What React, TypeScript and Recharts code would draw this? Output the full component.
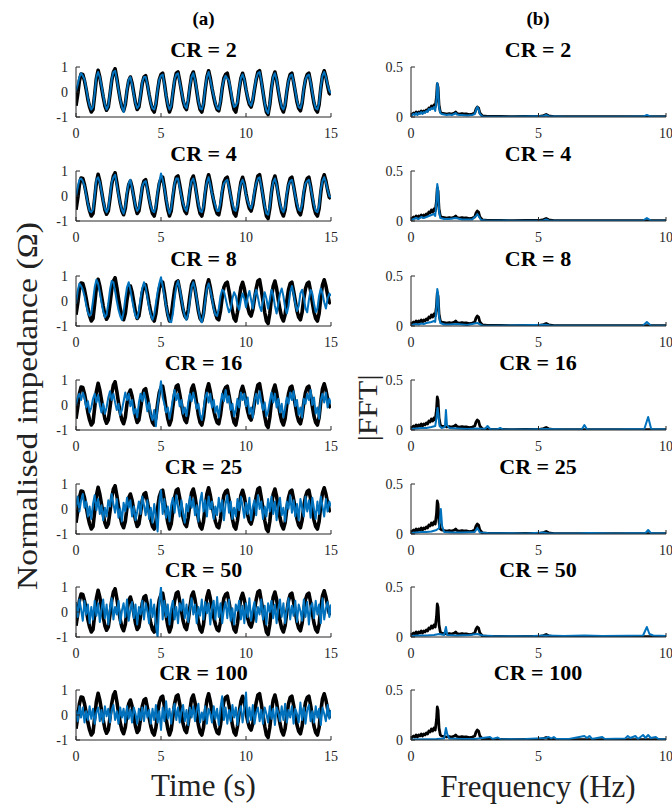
import React from "react";
import { LineChart, Line, XAxis, YAxis } from "recharts";

// ---------- DATA ----------
const DT = 0.1; // sample spacing of time signals (s)
const CR_LABELS = ["2", "4", "8", "16", "25", "50", "100"];
const TIME_TICKS = [0, 5, 10, 15];
const IMP_TICKS = [-1, 0, 1];
const FREQ_TICKS = [0, 5, 10];
const FFT_TICKS = [0, 0.5];

const originalSignal = [
  -0.55, -0.1, 0.45, 0.72, 0.7, 0.45, 0.1, -0.3, -0.6, -0.8,
  -0.7, -0.1, 0.55, 0.87, 0.6, 0.2, -0.2, -0.55, -0.73, -0.6,
  -0.1, 0.45, 0.8, 0.93, 0.55, 0.1, -0.3, -0.6, -0.75, -0.5,
  0.05, 0.45, 0.6, 0.35, -0.05, -0.45, -0.7, -0.6, -0.15, 0.35,
  0.6, 0.65, 0.3, -0.1, -0.45, -0.7, -0.8, -0.5, 0.05, 0.5,
  0.7, 0.75, 0.35, -0.15, -0.55, -0.8, -0.6, -0.05, 0.45, 0.75,
  0.8, 0.45, 0.05, -0.35, -0.6, -0.7, -0.35, 0.2, 0.65, 0.8,
  0.5, 0.05, -0.4, -0.7, -0.8, -0.5, 0.1, 0.6, 0.85, 0.55,
  0.15, -0.2, -0.5, -0.7, -0.75, -0.4, 0.15, 0.55, 0.7, 0.75,
  0.4, 0.0, -0.4, -0.7, -0.8, -0.45, 0.1, 0.55, 0.75, 0.5,
  0.1, -0.25, -0.5, -0.6, -0.35, 0.1, 0.5, 0.8, 0.85, 0.45,
  0.0, -0.45, -0.8, -0.9, -0.5, 0.15, 0.6, 0.8, 0.5, 0.05,
  -0.35, -0.65, -0.8, -0.55, 0.0, 0.45, 0.7, 0.75, 0.4, 0.0,
  -0.4, -0.65, -0.75, -0.45, 0.1, 0.5, 0.7, 0.75, 0.4, -0.05,
  -0.45, -0.7, -0.8, -0.5, 0.15, 0.65, 0.85, 0.6, 0.25, -0.05,
  -0.1,
];

const recCR2 = [
  0.05, 0.3, 0.6, 0.75, 0.65, 0.5, 0.15, -0.25, -0.55, -0.7,
  -0.6, -0.05, 0.6, 0.8, 0.6, 0.25, -0.15, -0.5, -0.7, -0.55,
  -0.05, 0.5, 0.8, 0.85, 0.5, 0.1, -0.3, -0.6, -0.8, -0.45,
  0.1, 0.5, 0.6, 0.3, -0.1, -0.45, -0.65, -0.55, -0.1, 0.4,
  0.6, 0.6, 0.3, -0.1, -0.45, -0.65, -0.7, -0.45, 0.1, 0.5,
  0.65, 0.7, 0.3, -0.15, -0.5, -0.7, -0.55, 0.0, 0.5, 0.7,
  0.75, 0.4, 0.05, -0.3, -0.55, -0.65, -0.3, 0.25, 0.6, 0.75,
  0.5, 0.1, -0.35, -0.65, -0.7, -0.45, 0.15, 0.6, 0.8, 0.5,
  0.15, -0.15, -0.45, -0.65, -0.7, -0.35, 0.2, 0.5, 0.65, 0.55,
  0.45, 0.1, -0.35, -0.6, -0.55, -0.4, 0.15, 0.55, 0.7, 0.5,
  0.1, -0.2, -0.45, -0.55, -0.3, 0.15, 0.55, 0.75, 0.8, 0.45,
  0.0, -0.45, -0.75, -0.85, -0.45, 0.15, 0.6, 0.75, 0.5, 0.1,
  -0.3, -0.6, -0.7, -0.5, 0.05, 0.45, 0.65, 0.7, 0.4, 0.05,
  -0.35, -0.6, -0.65, -0.4, 0.15, 0.5, 0.65, 0.7, 0.4, 0.0,
  -0.4, -0.65, -0.7, -0.45, 0.2, 0.65, 0.8, 0.6, 0.3, 0.05,
  -0.05,
];

const recCR4 = [
  0.0, 0.35, 0.65, 0.7, 0.6, 0.4, 0.05, -0.3, -0.6, -0.65,
  -0.55, 0.0, 0.65, 0.75, 0.55, 0.2, -0.2, -0.5, -0.65, -0.5,
  0.0, 0.55, 0.75, 0.85, 0.45, 0.05, -0.3, -0.55, -0.7, -0.4,
  0.15, 0.5, 0.65, 0.3, -0.05, -0.4, -0.6, -0.5, -0.05, 0.4,
  0.55, 0.6, 0.25, -0.1, -0.4, -0.6, -0.65, -0.4, 0.15, 0.55,
  0.9, 0.65, 0.3, -0.1, -0.45, -0.7, -0.5, 0.05, 0.5, 0.7,
  0.7, 0.35, 0.0, -0.3, -0.5, -0.6, -0.25, 0.3, 0.6, 0.7,
  0.45, 0.05, -0.3, -0.6, -0.65, -0.4, 0.2, 0.55, 0.75, 0.45,
  0.1, -0.15, -0.4, -0.6, -0.6, -0.25, 0.25, 0.5, 0.6, 0.65,
  0.35, 0.0, -0.3, -0.55, -0.6, -0.35, 0.2, 0.5, 0.65, 0.45,
  0.05, -0.2, -0.4, -0.5, -0.25, 0.2, 0.5, 0.7, 0.75, 0.4,
  0.0, -0.4, -0.7, -0.75, -0.4, 0.2, 0.55, 0.7, 0.45, 0.05,
  -0.3, -0.55, -0.65, -0.45, 0.1, 0.45, 0.6, 0.65, 0.35, 0.0,
  -0.3, -0.55, -0.6, -0.35, 0.2, 0.5, 0.6, 0.65, 0.35, 0.0,
  -0.35, -0.6, -0.65, -0.4, 0.25, 0.6, 0.75, 0.55, 0.25, 0.0,
  -0.05,
];

const recCR8 = [
  -0.1, 0.4, 0.7, 0.6, 0.45, 0.2, -0.15, -0.45, -0.6, -0.5,
  0.0, 0.55, 0.85, 0.7, 0.35, -0.05, -0.4, -0.65, -0.55, -0.1,
  0.45, 0.8, 0.75, 0.4, 0.0, -0.35, -0.6, -0.75, -0.45, 0.1,
  0.55, 0.75, 0.45, 0.05, -0.3, -0.6, -0.7, -0.4, 0.1, 0.5,
  0.75, 0.55, 0.15, -0.25, -0.55, -0.75, -0.55, -0.1, 0.35, 0.7,
  0.95, 0.6, 0.2, -0.2, -0.55, -0.8, -0.85, -0.5, 0.1, 0.6,
  0.8, 0.5, 0.1, -0.3, -0.6, -0.75, -0.5, 0.05, 0.55, 0.75,
  0.5, 0.1, -0.35, -0.7, -0.85, -0.55, 0.0, 0.5, 0.7, 0.45,
  0.1, -0.3, -0.55, -0.6, -0.3, 0.2, 0.45, 0.4, 0.1, -0.2,
  -0.45, -0.3, 0.1, 0.35, 0.2, -0.15, -0.35, 0.05, 0.3, 0.1,
  -0.25, 0.15, 0.4, 0.05, -0.3, 0.2, 0.45, 0.15, -0.2, -0.4,
  0.0, 0.35, 0.1, -0.3, 0.05, 0.45, 0.25, -0.2, -0.5, -0.1,
  0.3, 0.5, 0.2, -0.25, -0.5, -0.2, 0.35, 0.6, 0.3, -0.1,
  -0.4, -0.2, 0.3, 0.45, 0.15, -0.3, -0.45, 0.05, 0.45, 0.3,
  -0.1, -0.45, -0.3, 0.2, 0.5, 0.3, -0.05, -0.3, 0.1, 0.3,
  0.2,
];

const recCR16 = [
  0.0, 0.3, 0.45, 0.2, 0.5, 0.3, -0.1, 0.15, -0.3, -0.1,
  0.25, 0.45, 0.1, 0.4, 0.0, -0.3, 0.05, -0.35, -0.1, 0.3,
  0.55, 0.2, 0.45, 0.1, -0.2, 0.05, -0.4, -0.2, 0.15, 0.5,
  0.2, 0.45, -0.05, 0.2, -0.35, -0.15, -0.5, 0.1, 0.45, 0.15,
  0.5, 0.2, -0.25, 0.1, -0.4, -0.6, -0.2, -0.85, 0.0, 0.45,
  0.95, 0.3, 0.05, -0.3, -0.1, -0.55, -0.2, 0.25, 0.6, 0.2,
  0.45, -0.05, 0.2, -0.35, -0.1, -0.45, 0.1, 0.45, 0.15, 0.5,
  0.2, -0.15, 0.05, -0.4, -0.6, -0.2, 0.3, 0.5, 0.1, 0.45,
  -0.1, 0.2, -0.3, -0.05, -0.5, 0.05, 0.45, 0.15, 0.6, 0.1,
  0.35, -0.2, 0.05, -0.45, -0.2, 0.25, -0.1, 0.5, 0.2, 0.45,
  -0.05, 0.3, -0.35, -0.1, -0.5, 0.2, 0.45, 0.05, 0.55, 0.15,
  -0.2, 0.1, -0.45, -0.25, 0.15, 0.5, 0.1, 0.45, -0.1, 0.25,
  -0.3, 0.05, -0.5, -0.15, 0.3, 0.05, 0.5, 0.2, 0.55, -0.05,
  0.2, -0.4, -0.1, -0.5, 0.25, 0.05, 0.45, 0.2, 0.6, 0.0,
  0.3, -0.35, -0.1, -0.55, 0.2, 0.45, 0.1, 0.5, -0.1, 0.25,
  0.05,
];

const recCR25 = [
  0.1, 0.5, -0.1, 0.35, 0.6, 0.05, 0.3, -0.3, 0.1, -0.4,
  0.2, 0.55, -0.05, 0.4, -0.2, 0.15, -0.45, 0.05, -0.3, 0.35,
  0.1, 0.6, 0.2, -0.15, 0.4, -0.35, 0.0, -0.5, 0.25, -0.1,
  0.45, 0.05, 0.35, -0.3, 0.1, -0.45, -0.1, 0.3, -0.2, 0.5,
  0.15, -0.25, 0.35, -0.4, 0.05, -0.55, 0.2, -0.3, -0.9, 0.3,
  0.75, -0.2, 0.4, -0.35, 0.1, -0.5, 0.15, 0.45, -0.15, 0.55,
  0.1, -0.3, 0.35, -0.2, -0.55, 0.2, -0.1, 0.5, 0.05, 0.4,
  -0.25, 0.15, -0.5, 0.3, 0.65, -0.1, 0.35, -0.3, 0.5, 0.0,
  0.3, -0.4, 0.1, -0.25, 0.45, -0.1, 0.35, -0.45, 0.2, 0.55,
  -0.15, 0.3, -0.4, 0.05, -0.3, 0.4, -0.05, 0.5, 0.1, -0.35,
  0.25, -0.2, 0.45, -0.45, 0.1, 0.35, -0.25, 0.55, 0.0, 0.3,
  -0.4, 0.1, -0.3, 0.4, -0.1, 0.5, -0.2, 0.3, -0.45, 0.15,
  0.45, -0.25, 0.05, -0.5, 0.3, 0.0, 0.55, -0.15, 0.35, -0.3,
  0.2, -0.45, 0.4, 0.05, -0.3, 0.5, -0.1, 0.35, -0.35, 0.45,
  0.0, -0.4, 0.3, -0.2, 0.5, 0.1, -0.3, 0.4, -0.1, 0.3,
  0.1,
];

const recCR50 = [
  0.4, -0.2, 0.5, 0.1, -0.35, 0.45, -0.1, 0.3, -0.45, 0.2,
  -0.3, 0.45, -0.15, 0.35, -0.4, 0.1, 0.5, -0.25, 0.3, -0.5,
  0.15, 0.55, -0.3, 0.2, -0.1, 0.45, -0.45, 0.05, 0.35, -0.2,
  0.5, -0.35, 0.1, 0.4, -0.25, 0.3, -0.5, 0.2, -0.1, 0.45,
  -0.3, 0.35, 0.05, -0.45, 0.5, -0.2, 0.3, -0.55, -1.0, 0.4,
  1.0, -0.3, 0.45, -0.2, 0.3, -0.5, 0.15, 0.45, -0.3, 0.2,
  -0.45, 0.35, 0.05, 0.5, -0.25, 0.3, -0.4, 0.15, 0.55, -0.1,
  0.3, -0.45, 0.2, -0.15, 0.5, -0.3, 0.4, -0.05, 0.35, -0.5,
  0.2, 0.45, -0.3, 0.6, -0.2, 0.35, -0.45, 0.1, 0.4, -0.25,
  0.5, -0.35, 0.15, -0.5, 0.3, 0.05, 0.45, -0.3, 0.25, -0.45,
  0.35, -0.2, 0.55, -0.35, 0.1, 0.4, -0.4, 0.2, -0.1, 0.5,
  -0.3, 0.25, -0.5, 0.35, 0.0, 0.45, -0.25, 0.3, -0.45, 0.15,
  0.5, -0.2, 0.35, -0.45, 0.1, 0.55, -0.3, 0.25, -0.15, 0.45,
  -0.4, 0.3, 0.05, -0.35, 0.5, -0.2, 0.4, -0.5, 0.2, 0.35,
  -0.25, 0.45, -0.1, 0.3, -0.45, 0.55, -0.3, 0.15, 0.4, -0.2,
  0.3,
];

const recCR100 = [
  0.2, -0.25, 0.35, -0.1, 0.3, -0.3, 0.15, -0.2, 0.35, -0.15,
  0.25, -0.35, 0.1, 0.3, -0.25, 0.2, -0.3, 0.35, -0.05, 0.25,
  -0.3, 0.2, 0.4, -0.2, 0.15, -0.35, 0.3, -0.1, 0.25, -0.3,
  0.35, -0.15, 0.2, -0.3, 0.3, 0.05, -0.35, 0.25, -0.2, 0.3,
  -0.25, 0.35, -0.1, 0.2, -0.35, 0.25, -0.2, 0.4, -0.3, 0.15,
  -0.6, 0.3, -0.25, 0.55, -0.15, 0.25, -0.35, 0.2, 0.45, -0.2,
  0.3, -0.3, 0.15, 0.4, -0.25, 0.2, -0.4, 0.3, -0.1, 0.35,
  -0.25, 0.2, 0.45, -0.3, 0.1, -0.2, 0.35, -0.35, 0.25, 0.05,
  -0.3, 0.35, -0.15, 0.25, -0.4, 0.3, 0.75, -0.2, 0.3, -0.35,
  0.2, -0.25, 0.4, -0.1, 0.3, -0.4, 0.15, 0.35, -0.3, 0.25,
  0.9, -0.3, 0.3, -0.2, 0.4, -0.35, 0.1, 0.3, -0.25, 0.2,
  -0.35, 0.3, 0.05, -0.3, 0.35, -0.15, 0.25, -0.4, 0.3, 0.1,
  -0.25, 0.35, -0.2, 0.45, -0.3, 0.2, -0.1, 0.35, -0.35, 0.25,
  0.05, -0.3, 0.5, -0.2, 0.3, -0.35, 0.2, 0.4, -0.25, 0.15,
  -0.3, 0.35, -0.1, 0.25, -0.4, 0.3, 0.05, -0.25, 0.4, -0.15,
  0.2,
];

// FFT magnitude spectra: [frequency (Hz), |FFT|]
const fftOriginal = [
  [0, 0.01], [0.05, 0.03], [0.1, 0.04], [0.15, 0.03], [0.2, 0.05], [0.25, 0.03], [0.3, 0.05], [0.35, 0.04],
  [0.4, 0.06], [0.45, 0.04], [0.5, 0.06], [0.55, 0.05], [0.6, 0.07], [0.65, 0.06], [0.7, 0.09], [0.75, 0.08],
  [0.8, 0.11], [0.85, 0.09], [0.9, 0.12], [0.95, 0.1], [1.0, 0.2], [1.03, 0.33], [1.06, 0.3], [1.1, 0.12],
  [1.15, 0.05], [1.2, 0.04], [1.3, 0.035], [1.4, 0.03], [1.5, 0.035], [1.6, 0.03], [1.7, 0.04], [1.75, 0.05],
  [1.8, 0.035], [1.9, 0.03], [2.0, 0.035], [2.1, 0.03], [2.2, 0.03], [2.3, 0.025], [2.4, 0.03], [2.5, 0.04],
  [2.55, 0.08], [2.6, 0.1], [2.65, 0.09], [2.7, 0.04], [2.8, 0.01], [3.0, 0.006], [3.5, 0.005], [4.0, 0.004],
  [4.5, 0.006], [5.0, 0.005], [5.2, 0.015], [5.3, 0.025], [5.4, 0.012], [5.6, 0.004], [6, 0.004], [7, 0.003],
  [8, 0.003], [9, 0.003], [10, 0.003],
];

const fftCR2 = [
  [0, 0.01], [0.05, 0.02], [0.1, 0.03], [0.15, 0.02], [0.2, 0.04], [0.25, 0.02], [0.3, 0.04], [0.35, 0.03],
  [0.4, 0.05], [0.45, 0.03], [0.5, 0.05], [0.55, 0.04], [0.6, 0.06], [0.65, 0.05], [0.7, 0.08], [0.75, 0.07],
  [0.8, 0.09], [0.85, 0.08], [0.9, 0.1], [0.95, 0.06], [1.0, 0.18], [1.03, 0.34], [1.06, 0.3], [1.1, 0.1],
  [1.15, 0.04], [1.2, 0.03], [1.3, 0.025], [1.4, 0.02], [1.5, 0.025], [1.6, 0.02], [1.7, 0.03], [1.75, 0.04],
  [1.8, 0.025], [1.9, 0.02], [2.0, 0.02], [2.2, 0.015], [2.4, 0.02], [2.5, 0.03], [2.55, 0.07], [2.6, 0.1],
  [2.65, 0.08], [2.7, 0.03], [2.8, 0.005], [3, 0.003], [4, 0.003], [5.2, 0.01], [5.3, 0.02], [5.4, 0.008],
  [6, 0.003], [7, 0.003], [8, 0.003], [9.1, 0.004], [9.25, 0.02], [9.4, 0.004], [10, 0.003],
];

const fftCR4 = [
  [0, 0.01], [0.1, 0.02], [0.2, 0.03], [0.3, 0.02], [0.4, 0.04], [0.5, 0.03], [0.6, 0.04], [0.7, 0.05],
  [0.8, 0.06], [0.9, 0.07], [0.95, 0.05], [1.0, 0.2], [1.03, 0.37], [1.06, 0.32], [1.1, 0.1], [1.15, 0.03],
  [1.3, 0.02], [1.5, 0.02], [1.75, 0.03], [2.0, 0.015], [2.4, 0.015], [2.55, 0.05], [2.6, 0.07], [2.65, 0.05],
  [2.75, 0.01], [3, 0.003], [5.2, 0.005], [5.3, 0.015], [5.4, 0.005], [7, 0.003], [9.1, 0.004], [9.25, 0.03],
  [9.4, 0.004], [10, 0.003],
];

const fftCR8 = [
  [0, 0.01], [0.1, 0.015], [0.2, 0.02], [0.3, 0.015], [0.4, 0.025], [0.5, 0.02], [0.6, 0.03], [0.7, 0.035],
  [0.8, 0.04], [0.9, 0.05], [0.95, 0.04], [1.0, 0.2], [1.03, 0.37], [1.06, 0.33], [1.1, 0.1], [1.15, 0.03],
  [1.3, 0.015], [1.5, 0.015], [1.8, 0.02], [2.2, 0.01], [2.6, 0.03], [2.8, 0.005], [3.2, 0.003], [5.3, 0.012],
  [5.5, 0.003], [7, 0.003], [9.1, 0.005], [9.25, 0.04], [9.4, 0.005], [10, 0.003],
];

const fftCR16 = [
  [0, 0.01], [0.2, 0.015], [0.4, 0.02], [0.6, 0.02], [0.8, 0.03], [0.95, 0.04], [1.0, 0.12], [1.04, 0.22],
  [1.08, 0.15], [1.12, 0.04], [1.2, 0.02], [1.33, 0.03], [1.37, 0.2], [1.41, 0.05], [1.5, 0.02], [1.8, 0.015],
  [2.2, 0.01], [2.6, 0.015], [2.9, 0.01], [3.0, 0.04], [3.1, 0.01], [3.4, 0.008], [3.5, 0.02], [3.6, 0.006],
  [4.5, 0.005], [5.3, 0.01], [6, 0.005], [6.7, 0.008], [6.8, 0.05], [6.9, 0.008], [8, 0.005], [9.15, 0.01],
  [9.3, 0.13], [9.42, 0.01], [10, 0.005],
];

const fftCR25 = [
  [0, 0.01], [0.2, 0.015], [0.4, 0.02], [0.6, 0.02], [0.8, 0.025], [1.0, 0.04], [1.1, 0.06], [1.17, 0.25],
  [1.22, 0.08], [1.3, 0.02], [1.6, 0.015], [2.0, 0.015], [2.5, 0.02], [2.6, 0.06], [2.7, 0.015], [3.0, 0.01],
  [3.5, 0.008], [4.5, 0.005], [5.2, 0.015], [5.4, 0.005], [6.5, 0.006], [7.0, 0.01], [8, 0.005], [9.2, 0.01],
  [9.3, 0.04], [9.4, 0.01], [10, 0.005],
];

const fftCR50 = [
  [0, 0.01], [0.3, 0.015], [0.6, 0.015], [0.9, 0.02], [1.1, 0.03], [1.3, 0.02], [1.37, 0.1], [1.42, 0.02],
  [1.8, 0.015], [2.3, 0.02], [2.6, 0.03], [2.8, 0.015], [3.2, 0.01], [4.0, 0.008], [4.8, 0.01], [5.3, 0.015],
  [6.0, 0.01], [6.8, 0.015], [7.5, 0.01], [8.5, 0.012], [9.1, 0.015], [9.25, 0.1], [9.35, 0.03], [9.5, 0.015],
  [10, 0.01],
];

const fftCR100 = [
  [0, 0.005], [0.5, 0.008], [1.0, 0.01], [1.3, 0.015], [1.37, 0.12], [1.42, 0.06], [1.5, 0.015], [2.0, 0.01],
  [2.5, 0.01], [3.1, 0.03], [3.2, 0.01], [3.4, 0.025], [3.5, 0.01], [4.0, 0.008], [4.5, 0.01], [5.3, 0.02],
  [5.4, 0.03], [5.5, 0.015], [5.6, 0.03], [5.7, 0.01], [6.2, 0.01], [6.8, 0.04], [6.9, 0.02], [7.0, 0.04],
  [7.1, 0.01], [7.5, 0.03], [7.6, 0.01], [8.4, 0.015], [8.5, 0.04], [8.6, 0.02], [8.8, 0.04], [8.9, 0.01],
  [9.1, 0.05], [9.2, 0.02], [9.3, 0.05], [9.4, 0.02], [9.6, 0.03], [9.7, 0.01], [10, 0.008],
];

const RECON_TIME = [recCR2, recCR4, recCR8, recCR16, recCR25, recCR50, recCR100];
const RECON_FFT = [fftCR2, fftCR4, fftCR8, fftCR16, fftCR25, fftCR50, fftCR100];

// ---------- STYLE / LAYOUT ----------
const PANEL_TOPS = [67, 171, 276, 380, 484, 587, 690];
const TOP_PAD = 12;
const BLUE = "#0072BD";
const AXIS = "#262626";
const SERIF = "Liberation Serif, Times New Roman, Times, DejaVu Serif, serif";
const tickStyle = { fontFamily: SERIF, fontSize: 14, fill: AXIS };

function Panel({ left, top, xDomain, xTicks, yDomain, yTicks, children, data }: any) {
  return (
    <div style={{ position: "absolute", left, top: top - TOP_PAD }}>
      <LineChart width={345} height={80 + TOP_PAD} data={data} margin={{ top: TOP_PAD, right: 14, bottom: 0, left: 0 }}>
        <XAxis
          dataKey="x"
          type="number"
          domain={xDomain}
          ticks={xTicks}
          interval={0}
          allowDataOverflow
          height={30}
          tickSize={-4}
          tickMargin={15}
          stroke={AXIS}
          tick={tickStyle}
        />
        <XAxis
          xAxisId="top"
          orientation="top"
          dataKey="x"
          type="number"
          domain={xDomain}
          ticks={xTicks}
          interval={0}
          allowDataOverflow
          height={0}
          tickSize={-4}
          tick={false}
          stroke={AXIS}
        />
        <YAxis
          type="number"
          domain={yDomain}
          ticks={yTicks}
          interval={0}
          allowDataOverflow
          width={76}
          tickSize={-4}
          tickMargin={12}
          stroke={AXIS}
          tick={tickStyle}
        />
        <YAxis
          yAxisId="right"
          orientation="right"
          type="number"
          domain={yDomain}
          ticks={yTicks}
          interval={0}
          allowDataOverflow
          width={0}
          tickSize={-4}
          tick={false}
          stroke={AXIS}
        />
        {children}
      </LineChart>
    </div>
  );
}

function TimePanel({ idx }: { idx: number }) {
  const rec = RECON_TIME[idx];
  const data = originalSignal.map((v, i) => ({ x: +(i * DT).toFixed(2), orig: v, rec: rec[i] }));
  return (
    <Panel left={0} top={PANEL_TOPS[idx]} xDomain={[0, 15]} xTicks={TIME_TICKS} yDomain={[-1, 1]} yTicks={IMP_TICKS} data={data}>
      <Line dataKey="orig" stroke="#000" strokeWidth={3.6} dot={false} isAnimationActive={false} strokeLinejoin="round" />
      <Line dataKey="rec" stroke={BLUE} strokeWidth={2} dot={false} isAnimationActive={false} strokeLinejoin="round" />
    </Panel>
  );
}

function FftPanel({ idx }: { idx: number }) {
  const orig = fftOriginal.map(([f, a]) => ({ x: f, y: a }));
  const rec = RECON_FFT[idx].map(([f, a]) => ({ x: f, y: a }));
  return (
    <Panel left={335} top={PANEL_TOPS[idx]} xDomain={[0, 10]} xTicks={FREQ_TICKS} yDomain={[0, 0.5]} yTicks={FFT_TICKS}>
      <Line data={orig} dataKey="y" stroke="#000" strokeWidth={2.8} dot={false} isAnimationActive={false} strokeLinejoin="round" />
      <Line data={rec} dataKey="y" stroke={BLUE} strokeWidth={2} dot={false} isAnimationActive={false} strokeLinejoin="round" />
    </Panel>
  );
}

export default function App() {
  return (
    <div style={{ position: "absolute", left: 0, top: 0, width: 672, height: 804, overflow: "hidden", background: "#fff", fontFamily: SERIF }}>
      {CR_LABELS.map((_, i) => (
        <TimePanel key={"t" + i} idx={i} />
      ))}
      {CR_LABELS.map((_, i) => (
        <FftPanel key={"f" + i} idx={i} />
      ))}
      <svg width={672} height={804} style={{ position: "absolute", left: 0, top: 0, pointerEvents: "none" }}>
        <g style={{ fontFamily: SERIF }} fill="#000">
          <text x={203.5} y={25} textAnchor="middle" fontWeight="bold" fontSize={19}>(a)</text>
          <text x={538} y={25} textAnchor="middle" fontWeight="bold" fontSize={19}>(b)</text>
          {CR_LABELS.map((c, i) => (
            <React.Fragment key={"ttl" + i}>
              <text x={203.5} y={PANEL_TOPS[i] - 10} textAnchor="middle" fontWeight="bold" fontSize={22}>{`CR = ${c}`}</text>
              <text x={538} y={PANEL_TOPS[i] - 10} textAnchor="middle" fontWeight="bold" fontSize={22}>{`CR = ${c}`}</text>
            </React.Fragment>
          ))}
          <text x={203.5} y={796} textAnchor="middle" fontSize={31} fill="#222">Time (s)</text>
          <text x={538} y={797} textAnchor="middle" fontSize={31} fill="#222">Frequency (Hz)</text>
          <text
            transform="translate(37,406) rotate(-90)"
            textAnchor="middle"
            fontSize={30}
            fill="#222"
            textLength={368}
            lengthAdjust="spacingAndGlyphs"
          >
            Normalised impedance (Ω)
          </text>
          <text
            transform="translate(377,408) rotate(-90)"
            textAnchor="middle"
            fontSize={28}
            fill="#222"
            textLength={67}
            lengthAdjust="spacingAndGlyphs"
          >
            |FFT|
          </text>
        </g>
      </svg>
    </div>
  );
}
